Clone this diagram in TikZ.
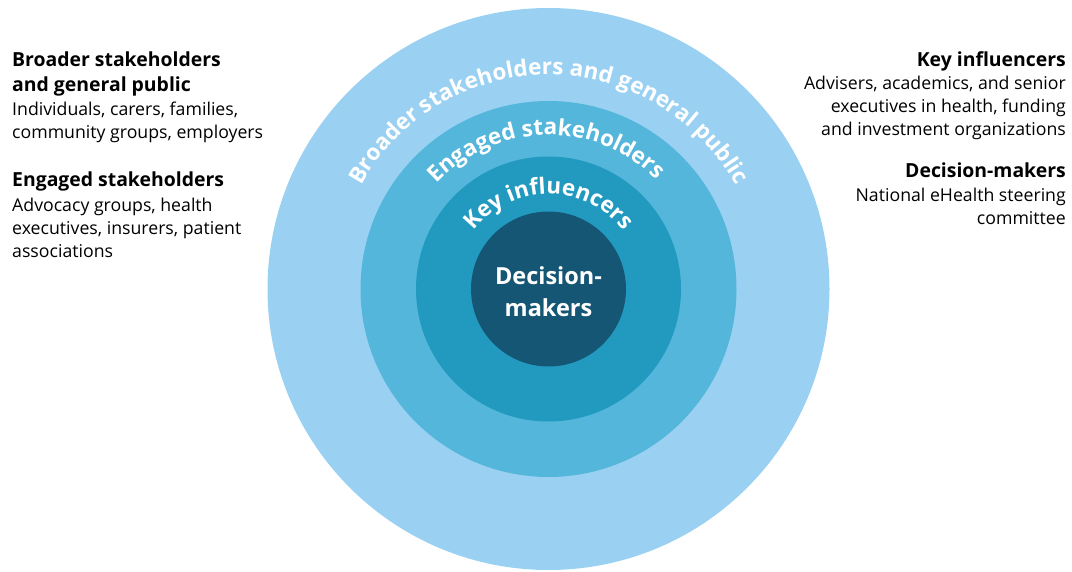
\documentclass[tikz,border=0pt]{standalone}
\usepackage{fontspec}
\setmainfont{Open Sans}
\usetikzlibrary{decorations.text}
\definecolor{ringA}{RGB}{154,209,243}
\definecolor{ringB}{RGB}{84,182,218}
\definecolor{ringC}{RGB}{34,154,192}
\definecolor{ringD}{RGB}{22,86,117}
\newcommand{\ringfont}{\fontsize{22.5}{22.5}\selectfont\bfseries}
\tikzset{
  head/.style={font=\fontsize{19.4}{23}\selectfont\bfseries, inner sep=0pt},
  body/.style={font=\fontsize{17.7}{23}\selectfont, inner sep=0pt},
  ringlabel/.style={decorate, decoration={text along path, text align=center, text color=white, text={|\ringfont|#1}}}
}
\begin{document}
\begin{tikzpicture}[x=1pt,y=1pt]
\useasboundingbox (0,0) rectangle (1072,571);
\coordinate (c) at (548.5,282);

\fill[ringA] (c) circle (281pt);
\fill[ringB] (c) circle (188pt);
\fill[ringC] (c) circle (132.5pt);
\fill[ringD] (c) circle (77.5pt);

\path[ringlabel={Broader stakeholders and general public}] (c) ++(155:214pt) arc[start angle=155, end angle=25, radius=214pt];
\path[ringlabel={Engaged stakeholders}] (c) ++(145:154pt) arc[start angle=145, end angle=37, radius=154pt];
\path[ringlabel={Key influencers}] (c) ++(150:95pt) arc[start angle=150, end angle=30, radius=95pt];

\node (dm1) at (548.5,286) [anchor=base, text=white, font=\fontsize{23.5}{23.5}\selectfont\bfseries] {Decision-};
\node (dm2) at (548.5,254) [anchor=base, text=white, font=\fontsize{23.5}{23.5}\selectfont\bfseries] {makers};

\node (bsh1) at (12,504) [head, anchor=base west] {Broader stakeholders};
\node (bsh2) at (12,479) [head, anchor=base west] {and general public};
\node (bsb1) at (12,455) [body, anchor=base west] {Individuals, carers, families,};
\node (bsb2) at (12,432) [body, anchor=base west] {community groups, employers};
\node (esh)  at (12,384) [head, anchor=base west] {Engaged stakeholders};
\node (esb1) at (12,359) [body, anchor=base west] {Advocacy groups, health};
\node (esb2) at (12,336) [body, anchor=base west] {executives, insurers, patient};
\node (esb3) at (12,313) [body, anchor=base west] {associations};

\node (kih)  at (1066,504) [head, anchor=base east] {Key influencers};
\node (kib1) at (1066,481) [body, anchor=base east] {Advisers, academics, and senior};
\node (kib2) at (1066,458) [body, anchor=base east] {executives in health, funding};
\node (kib3) at (1066,435) [body, anchor=base east] {and investment organizations};
\node (dmh)  at (1066,393) [head, anchor=base east] {Decision-makers};
\node (dmb1) at (1066,369) [body, anchor=base east] {National eHealth steering};
\node (dmb2) at (1066,346) [body, anchor=base east] {committee};
\end{tikzpicture}
\end{document}
